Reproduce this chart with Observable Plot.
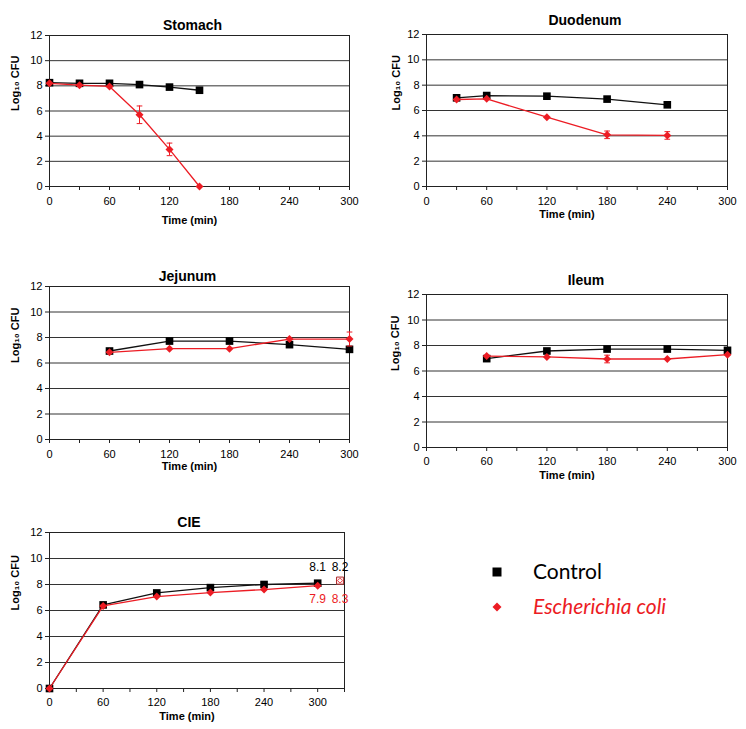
<!DOCTYPE html>
<html>
<head>
<meta charset="utf-8">
<script src="https://cdn.jsdelivr.net/npm/d3@7"></script>
<script src="https://cdn.jsdelivr.net/npm/@observablehq/plot@0.6"></script>
<style>
  html, body { margin: 0; padding: 0; background: #fff; }
  #root { position: relative; width: 746px; height: 729px; overflow: hidden; background: #fff; }
  .panel { position: absolute; }
  .panel svg { display: block; overflow: hidden; }
  .legend { position: absolute; font-family: Lato, "Open Sans", sans-serif; font-size: 21px; line-height: 1; }
  .legend .row { position: absolute; white-space: nowrap; }
  .legend .sym { position: absolute; }
</style>
</head>
<body>
<div id="root"></div>
<script>
// ---------- data ----------
const seriesNames = ["Control", "Escherichia coli"];
const yTicks = [0, 2, 4, 6, 8, 10, 12];
const gridValues = [2, 4, 6, 8, 10];
const xTickLabels = [0, 60, 120, 180, 240, 300];
const xMinorTicks = [30, 90, 150, 210, 270, 330];

const stomachTime = [0, 30, 60, 90, 120, 150];
const stomachControl = [8.25, 8.2, 8.2, 8.1, 7.9, 7.65];
const stomachEcoli = [8.2, 8.05, 7.95, 5.7, 2.95, 0];
const stomachEcoliErr = [0, 0, 0, 0.7, 0.5, 0];

const duodenumTime = [30, 60, 120, 180, 240];
const duodenumControl = [7.0, 7.18, 7.13, 6.9, 6.45];
const duodenumEcoli = [6.87, 6.92, 5.47, 4.08, 4.03];
const duodenumEcoliErr = [0, 0, 0, 0.3, 0.3];

const jejunumTime = [60, 120, 180, 240, 300];
const jejunumControl = [6.94, 7.72, 7.72, 7.44, 7.07];
const jejunumEcoli = [6.84, 7.12, 7.12, 7.88, 7.88];
const jejunumEcoliErr = [0, 0, 0, 0, 0.55];

const ileumTime = [60, 120, 180, 240, 300];
const ileumControl = [6.97, 7.57, 7.72, 7.72, 7.62];
const ileumEcoli = [7.17, 7.1, 6.94, 6.94, 7.28];
const ileumEcoliErr = [0, 0, 0.3, 0, 0];

const cieTime = [0, 60, 120, 180, 240, 300];
const cieControl = [0, 6.43, 7.35, 7.76, 8.0, 8.1];
const cieEcoli = [0, 6.35, 7.07, 7.38, 7.61, 7.91];
const cieEcoliErr = [0, 0, 0, 0, 0, 0];
const cieFinalTime = [325];
const cieFinalValue = [8.3];
const cieLabelTime = [300, 325];
const cieControlLabels = ["8.1", "8.2"];
const cieEcoliLabels = ["7.9", "8.3"];
const cieControlLabelRow = [9.3, 9.3];
const cieEcoliLabelRow = [6.9, 6.9];

// ---------- styling / layout ----------
const RED = "#ec1c24";
const GRID = "#333";
const tickFont = '"Liberation Sans", Arial, sans-serif';

const capSymbol = {
  draw(context, size) {
    const w = Math.sqrt(size) / 2;
    context.moveTo(-w, 0);
    context.lineTo(w, 0);
  }
};

function panel(cfg) {
  const ctrl = cfg.time.map((t, i) => ({t, v: cfg.control[i]}));
  const eco = cfg.time.map((t, i) => ({t, v: cfg.ecoli[i], e: cfg.err[i]}));
  const errs = eco.filter(d => d.e > 0);
  const xMax = cfg.xDomain[1];
  const marks = [
    Plot.ruleY(gridValues, {stroke: GRID, strokeWidth: 1}),
    Plot.frame({stroke: "#222", strokeWidth: 1}),
    Plot.axisY(yTicks, {tickSize: 4, tickPadding: 3, label: null, fontSize: 11, stroke: "#222"}),
    Plot.axisX(xMinorTicks.filter(v => v <= xMax), {tickSize: 4, tickFormat: () => "", label: null, stroke: "#222"}),
    Plot.axisX(xTickLabels.filter(v => v <= xMax), {tickSize: 4, tickPadding: cfg.xPad, label: null, fontSize: 11, stroke: "#222"}),
    Plot.line(ctrl, {x: "t", y: "v", stroke: "#111", strokeWidth: 1.3}),
    Plot.dot(ctrl, {x: "t", y: "v", symbol: "square", r: 4.3, fill: "#000", stroke: "none"}),
    Plot.line(eco, {x: "t", y: "v", stroke: RED, strokeWidth: 1.3}),
    Plot.ruleX(errs, {x: "t", y1: d => d.v - d.e, y2: d => d.v + d.e, stroke: RED, strokeWidth: 1}),
    Plot.dot(errs, {x: "t", y: d => d.v - d.e, symbol: capSymbol, r: 3.2, stroke: RED, fill: "none", strokeWidth: 1}),
    Plot.dot(errs, {x: "t", y: d => d.v + d.e, symbol: capSymbol, r: 3.2, stroke: RED, fill: "none", strokeWidth: 1}),
    Plot.dot(eco, {x: "t", y: "v", symbol: "diamond2", r: 3.6, fill: RED, stroke: "none"}),
    ...(cfg.extra || []),
    Plot.text([cfg.title], {frameAnchor: "top", dx: cfg.titleDx, dy: cfg.titleDy, fontSize: 14, fontWeight: "bold", fill: "#000"}),
    Plot.text(["Log₁₀ CFU"], {frameAnchor: "left", rotate: -90, dx: cfg.yLabelDx, fontSize: 11, fontWeight: "bold", fill: "#000"}),
    Plot.text(["Time (min)"], {frameAnchor: "bottom", dx: -10, dy: cfg.xLabelDy, fontSize: 11, fontWeight: "bold", fill: "#000"})
  ];
  const chart = Plot.plot({
    width: cfg.w, height: cfg.h,
    marginLeft: cfg.ml, marginRight: cfg.mr, marginTop: cfg.mt, marginBottom: cfg.mb,
    x: {domain: cfg.xDomain},
    y: {domain: [0, 12]},
    style: {fontFamily: tickFont, fontSize: "11px", color: "#000", background: "transparent", overflow: "hidden"},
    marks
  });
  const div = document.createElement("div");
  div.className = "panel";
  div.style.left = cfg.left + "px";
  div.style.top = cfg.top + "px";
  div.appendChild(chart);
  document.getElementById("root").appendChild(div);
}

panel({title: "Stomach", time: stomachTime, control: stomachControl, ecoli: stomachEcoli, err: stomachEcoliErr,
  xDomain: [0, 300], left: 0, top: 0, w: 373, h: 240, ml: 49, mr: 24, mt: 35, mb: 54,
  titleDx: -7, titleDy: -15, yLabelDx: -34, xLabelDy: 37, xPad: 7});

panel({title: "Duodenum", time: duodenumTime, control: duodenumControl, ecoli: duodenumEcoli, err: duodenumEcoliErr,
  xDomain: [0, 300], left: 373, top: 0, w: 373, h: 240, ml: 53, mr: 19, mt: 34, mb: 54,
  titleDx: 8, titleDy: -19, yLabelDx: -30, xLabelDy: 31, xPad: 7});

panel({title: "Jejunum", time: jejunumTime, control: jejunumControl, ecoli: jejunumEcoli, err: jejunumEcoliErr,
  xDomain: [0, 300], left: 0, top: 240, w: 373, h: 240, ml: 49, mr: 24, mt: 46, mb: 41,
  titleDx: -12, titleDy: -15, yLabelDx: -34, xLabelDy: 30, xPad: 7});

panel({title: "Ileum", time: ileumTime, control: ileumControl, ecoli: ileumEcoli, err: ileumEcoliErr,
  xDomain: [0, 300], left: 373, top: 240, w: 373, h: 240, ml: 53, mr: 19, mt: 54, mb: 33,
  titleDx: 9, titleDy: -19, yLabelDx: -31, xLabelDy: 31, xPad: 6});

panel({title: "CIE", time: cieTime, control: cieControl, ecoli: cieEcoli, err: cieEcoliErr,
  xDomain: [0, 330], left: 0, top: 480, w: 373, h: 249, ml: 49, mr: 29, mt: 52, mb: 41,
  titleDx: -8, titleDy: -15, yLabelDx: -34, xLabelDy: 31, xPad: 6,
  extra: [
    Plot.dot(cieFinalTime.map((t, i) => ({t, v: cieFinalValue[i]})), {x: "t", y: "v", symbol: "square", r: 4, fill: "#fbe3e3", stroke: "#b03030", strokeWidth: 1}),
    Plot.dot(cieFinalTime.map((t, i) => ({t, v: cieFinalValue[i]})), {x: "t", y: "v", symbol: "diamond2", r: 2.2, fill: "#fff", stroke: RED, strokeWidth: 0.8}),
    Plot.text(cieLabelTime.map((t, i) => ({t, v: cieControlLabelRow[i], s: cieControlLabels[i]})), {x: "t", y: "v", text: "s", fontSize: 12, fill: "#000"}),
    Plot.text(cieLabelTime.map((t, i) => ({t, v: cieEcoliLabelRow[i], s: cieEcoliLabels[i]})), {x: "t", y: "v", text: "s", fontSize: 12, fill: RED})
  ]});

// ---------- legend ----------
const legend = document.createElement("div");
legend.className = "legend";
legend.style.left = "0px"; legend.style.top = "0px";
const legendRows = [
  {name: seriesNames[0], cy: 572, color: "#000", italic: false, sym: "square"},
  {name: seriesNames[1], cy: 607, color: RED, italic: true, sym: "diamond"}
];
legendRows.forEach(r => {
  const s = document.createElementNS("http://www.w3.org/2000/svg", "svg");
  s.setAttribute("width", 14); s.setAttribute("height", 14);
  s.setAttribute("class", "sym");
  s.style.left = (497 - 7) + "px"; s.style.top = (r.cy - 7) + "px";
  const p = document.createElementNS("http://www.w3.org/2000/svg", "path");
  p.setAttribute("d", r.sym === "square" ? "M2.5,2.5H11.5V11.5H2.5Z" : "M7,2.5L11.5,7L7,11.5L2.5,7Z");
  p.setAttribute("fill", r.color);
  s.appendChild(p);
  legend.appendChild(s);
  const t = document.createElement("div");
  t.className = "row";
  t.textContent = r.name;
  t.style.left = "533px";
  t.style.top = (r.cy - 12) + "px";
  t.style.color = r.color;
  if (r.italic) t.style.fontStyle = "italic";
  legend.appendChild(t);
});
document.getElementById("root").appendChild(legend);
</script>
</body>
</html>
